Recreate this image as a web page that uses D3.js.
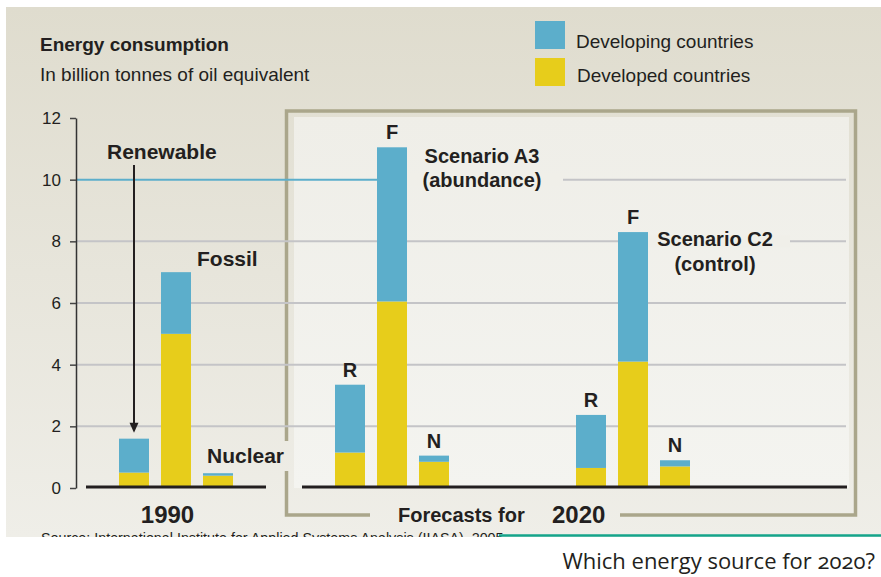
<!DOCTYPE html>
<html><head><meta charset="utf-8">
<script src="https://cdn.jsdelivr.net/npm/d3@7"></script>
<style>
html,body{margin:0;padding:0;background:#fff;}
svg{display:block;}
text{font-family:"Liberation Sans",Arial,Helvetica,sans-serif;fill:#231f20;}
.b{font-weight:bold;}
</style></head>
<body>
<svg id="c" width="881" height="577"></svg>
<script>
// ---- data ----
const groups = ["1990", "Scenario A3", "Scenario C2"];
const sources = ["R", "F", "N"];
const developed  = [[0.5, 5.0, 0.4], [1.15, 6.05, 0.85], [0.65, 4.1, 0.7]];
const developing = [[1.1, 2.0, 0.08], [2.2, 5.0, 0.2], [1.72, 4.2, 0.2]];
const yTicks = [0, 2, 4, 6, 8, 10, 12];
const seriesNames = ["Developing countries", "Developed countries"];
const sourceNames = ["Renewable", "Fossil", "Nuclear"];

const svg = d3.select("#c");
const C_BLUE = "#5caecb", C_YEL = "#e7cd1b", C_FRAME = "#aaa68b", C_INNER = "#f0efe9", C_GRID = "#c4c4c7";

// background gradient
const defs = svg.append("defs");
const lg = defs.append("linearGradient").attr("id","bg").attr("x1",0).attr("x2",0).attr("y1",0).attr("y2",1);
lg.append("stop").attr("offset","0%").attr("stop-color","#dfdcce");
lg.append("stop").attr("offset","100%").attr("stop-color","#efeee8");
const ig = defs.append("linearGradient").attr("id","inner").attr("x1",0).attr("x2",0).attr("y1",0).attr("y2",1);
ig.append("stop").attr("offset","0%").attr("stop-color","#efeee8");
ig.append("stop").attr("offset","100%").attr("stop-color","#f4f4f0");
defs.append("clipPath").attr("id","panelClip").append("rect").attr("x",6).attr("y",7).attr("width",875).attr("height",530);

svg.append("rect").attr("x",6).attr("y",7).attr("width",875).attr("height",530).attr("fill","url(#bg)");

// scales
const y = d3.scaleLinear().domain([0, 12]).range([488, 118]);
const gx = d3.scaleOrdinal().domain(groups).range([119, 335, 576]);
const bx = d3.scaleBand().domain(sources).range([0, 114]).paddingInner(2/7).paddingOuter(0);
const xl = d => gx(d.group) + bx(d.source);

// rows
const rows = [];
groups.forEach((g, gi) => sources.forEach((s, si) => rows.push({
  group: g, gi, source: s, si, developed: developed[gi][si], developing: developing[gi][si],
  total: developed[gi][si] + developing[gi][si]
})));
const stacked = d3.stack().keys(["developed", "developing"])(rows);

// inner forecast panel fill
const fx0 = 294, fx1 = 849;
svg.append("rect").attr("x",fx0).attr("y",117).attr("width",fx1-fx0).attr("height",y(0)-117).attr("fill","url(#inner)");

// frame (bracket with gaps)
const frame = svg.append("g").attr("stroke",C_FRAME).attr("stroke-width",3.5).attr("fill","none");
frame.append("path").attr("d",`M286.5,441 V111 H855.5 V515 H620`);
frame.append("path").attr("d",`M286.5,471 V515 H370`);

// gridlines
const xAxisX = 76, gridEnd = 846;
const grid = svg.append("g");
yTicks.filter(t => t > 0 && t < 12 && t !== 10).forEach(t => {
  grid.append("line").attr("x1",xAxisX).attr("x2",gridEnd).attr("y1",y(t)).attr("y2",y(t))
    .attr("stroke",C_GRID).attr("stroke-width",2);
});
// 10 line: blue up to the A3 fossil bar, grey afterwards
const a3F = rows.find(r => r.group === "Scenario A3" && r.source === "F");
grid.append("line").attr("x1",xAxisX).attr("x2",xl(a3F)).attr("y1",y(10)).attr("y2",y(10))
  .attr("stroke",C_BLUE).attr("stroke-width",2);
grid.append("line").attr("x1",xl(a3F)).attr("x2",gridEnd).attr("y1",y(10)).attr("y2",y(10))
  .attr("stroke",C_GRID).attr("stroke-width",2);

// masks behind scenario labels
svg.append("rect").attr("x",xl(a3F)+bx.bandwidth()).attr("y",y(10)-6).attr("width",563-(xl(a3F)+bx.bandwidth())).attr("height",12).attr("fill",C_INNER);
const c2F = rows.find(r => r.group === "Scenario C2" && r.source === "F");
svg.append("rect").attr("x",xl(c2F)+bx.bandwidth()).attr("y",y(8)-6).attr("width",790-(xl(c2F)+bx.bandwidth())).attr("height",12).attr("fill",C_INNER);

// y axis
const axisG = svg.append("g").attr("transform",`translate(${xAxisX},0)`)
  .call(d3.axisLeft(y).tickValues(yTicks).tickSize(6).tickPadding(9).tickSizeOuter(0));
axisG.select(".domain").attr("stroke","#333").attr("stroke-width",1.5);
axisG.selectAll(".tick line").attr("stroke","#444").attr("stroke-width",1.5);
axisG.selectAll(".tick text").attr("font-size",17).attr("font-family","Liberation Sans, Arial, sans-serif").attr("fill","#2a2a2a");

// bars
const colors = {developed: C_YEL, developing: C_BLUE};
svg.append("g").selectAll("g").data(stacked).join("g").attr("fill", d => colors[d.key])
  .selectAll("rect").data(d => d).join("rect")
  .attr("x", d => xl(d.data)).attr("width", bx.bandwidth())
  .attr("y", d => y(d[1])).attr("height", d => y(d[0]) - y(d[1]));

// baselines
const base = svg.append("g").attr("stroke","#231f20").attr("stroke-width",3);
base.append("line").attr("x1",86).attr("x2",266).attr("y1",y(0)-1).attr("y2",y(0)-1);
base.append("line").attr("x1",302).attr("x2",847).attr("y1",y(0)-1).attr("y2",y(0)-1);

// letter labels for forecast bars
svg.append("g").selectAll("text").data(rows.filter(r => r.group !== "1990")).join("text")
  .attr("class","b").attr("font-size",20).attr("text-anchor","middle")
  .attr("x", d => xl(d) + bx.bandwidth()/2).attr("y", d => y(d.total) - 8).text(d => d.source);

// 1990 annotations
const r90 = rows.filter(r => r.group === "1990");
svg.append("text").attr("class","b").attr("font-size",21).attr("x",107).attr("y",159).text(sourceNames[0]);
svg.append("line").attr("x1",xl(r90[0])+bx.bandwidth()/2).attr("x2",xl(r90[0])+bx.bandwidth()/2)
  .attr("y1",165).attr("y2",y(r90[0].total)-14).attr("stroke","#231f20").attr("stroke-width",2);
svg.append("path").attr("fill","#231f20")
  .attr("d",`M${xl(r90[0])+bx.bandwidth()/2-4.5},${y(r90[0].total)-16} h9 l-4.5,10 z`);
svg.append("text").attr("class","b").attr("font-size",21)
  .attr("x",xl(r90[1])+bx.bandwidth()+6).attr("y",y(r90[1].total)-6).text(sourceNames[1]);
svg.append("text").attr("class","b").attr("font-size",21)
  .attr("x",xl(r90[2])+4).attr("y",y(r90[2].total)-10).text(sourceNames[2]);

// scenario labels
svg.append("text").attr("class","b").attr("font-size",20).attr("text-anchor","middle").attr("x",482).attr("y",163).text("Scenario A3");
svg.append("text").attr("class","b").attr("font-size",20).attr("text-anchor","middle").attr("x",482).attr("y",187).text("(abundance)");
svg.append("text").attr("class","b").attr("font-size",20).attr("text-anchor","middle").attr("x",715).attr("y",246).text("Scenario C2");
svg.append("text").attr("class","b").attr("font-size",20).attr("text-anchor","middle").attr("x",715).attr("y",271).text("(control)");

// x group labels
svg.append("text").attr("class","b").attr("font-size",24).attr("text-anchor","middle").attr("x",167.5).attr("y",522.5).text("1990");
svg.append("text").attr("class","b").attr("font-size",20).attr("x",398).attr("y",522).text("Forecasts for");
svg.append("text").attr("class","b").attr("font-size",24).attr("x",552).attr("y",522.5).text("2020");

// titles
svg.append("text").attr("class","b").attr("font-size",19).attr("x",40).attr("y",51).text("Energy consumption");
svg.append("text").attr("font-size",19).attr("x",40).attr("y",81).attr("fill","#2a2a2a").text("In billion tonnes of oil equivalent");

// legend
const leg = svg.append("g");
[C_BLUE, C_YEL].forEach((c, i) => {
  leg.append("rect").attr("x",535).attr("y",21 + i*37).attr("width",30).attr("height",28).attr("fill",c);
  leg.append("text").attr("font-size",19).attr("x",576 + i).attr("y",48 + i*34).attr("fill","#2a2a2a").text(seriesNames[i]);
});

// source (clipped)
svg.append("text").attr("clip-path","url(#panelClip)").attr("font-size",14.3).attr("x",41).attr("y",543).attr("fill","#333")
  .text("Source: International Institute for Applied Systems Analysis (IIASA), 2005");

// teal rule and caption
svg.append("line").attr("x1",499).attr("x2",881).attr("y1",535.5).attr("y2",535.5).attr("stroke","#14a48b").attr("stroke-width",2.5);
svg.append("text").attr("x",875).attr("y",569).attr("text-anchor","end").attr("font-size",22)
  .style("font-family","'Open Sans', sans-serif").style("font-variant-numeric","oldstyle-nums").attr("fill","#231f20")
  .text("Which energy source for 2020?");
</script>
</body></html>
